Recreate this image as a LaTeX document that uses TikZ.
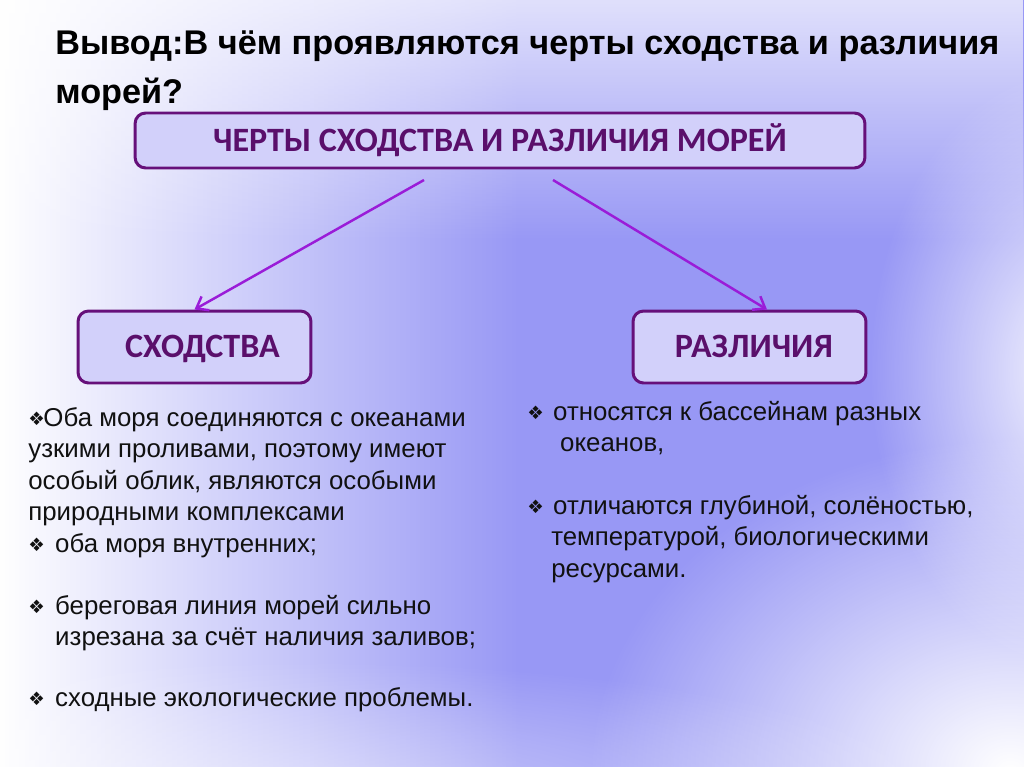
\documentclass[tikz,border=0pt]{standalone}
\usepackage{fontspec}
\setmainfont{Liberation Sans}
\newfontfamily\capsfont{Carlito}
\newfontfamily\glyphfont{DejaVu Sans}
\usetikzlibrary{arrows.meta,positioning,fadings}
\definecolor{Ink}{HTML}{111111}
\definecolor{Plum}{HTML}{5A0F6B}
\definecolor{PlumLine}{HTML}{66107A}
\definecolor{BoxFill}{HTML}{D2D0FA}
\definecolor{Violet}{HTML}{9A1CD8}
\definecolor{BgBlue}{HTML}{9898F5}
\tikzfading[name=glow,inner color=transparent!0,outer color=transparent!100]
\newcommand{\bul}[1]{\makebox[#1][l]{\raisebox{0.5pt}{\glyphfont\fontsize{10.5}{10.5}\selectfont ❖}}}
\tikzset{
  headbox/.style={draw=PlumLine,line width=1.7pt,rounded corners=6pt,fill=BoxFill,text=Plum,font=\capsfont\bfseries\fontsize{19.4}{21}\selectfont,inner sep=0pt,text height=12.5pt,text depth=0pt},
  topbox/.style={headbox,minimum width=14.6cm,minimum height=1.1cm},
  sidebox/.style={headbox,minimum width=4.66cm,minimum height=1.44cm},
  item/.style={anchor=north west,align=left,inner sep=0pt,text=Ink,font=\fontsize{14.7}{17.86}\selectfont},
  link/.style={-{Straight Barb[length=6pt,width=9pt]},line width=1.4pt,draw=Violet}
}
\begin{document}
\begin{tikzpicture}[x=0.02cm,y=-0.02cm]
\useasboundingbox (0,0) rectangle (1024,767);
% background
\fill[BgBlue] (0,0) rectangle (1024,767);
\fill[white,path fading=east] (0,0) rectangle (520,767);
\fill[white,path fading=south,fill opacity=0.7] (0,0) rectangle (1024,240);
\fill[white,path fading=glow] (1010,770) ellipse (420 and 330);
\fill[white,path fading=glow,fill opacity=0.9] (1070,370) ellipse (200 and 300);
\fill[white,path fading=glow,fill opacity=0.5] (260,800) ellipse (700 and 140);
% title
\node[anchor=north west,align=left,inner sep=0pt,font=\bfseries\fontsize{19.5}{28.3}\selectfont,text=black] (title) at (55,30) {Вывод:В чём проявляются черты сходства и различия\\морей?};
% boxes
\node[topbox] (traits) at (500,140.5) {ЧЕРТЫ СХОДСТВА И РАЗЛИЧИЯ МОРЕЙ};
\node[sidebox] (alike) at (194.5,347) {\hspace*{9pt}СХОДСТВА};
\node[sidebox] (unlike) at (749.5,347) {\hspace*{5pt}РАЗЛИЧИЯ};
\coordinate (fromL) at (424,180);
\coordinate (fromR) at (553,180);
\draw[link] (fromL) -- (alike.north);
\draw[link] (fromR) -- ([xshift=0.35cm]unlike.north);
% left column
\node[item] (s1) at (28,407) {\bul{8.6pt}Оба моря соединяются с океанами\\узкими проливами, поэтому имеют\\особый облик, являются особыми\\природными комплексами};
\node[item] (s2) at (28,533) {\bul{15.3pt}оба моря внутренних;};
\node[item] (s3) at (28,595) {\bul{15.3pt}береговая линия морей сильно\\\hspace*{15.3pt}изрезана за счёт наличия заливов;};
\node[item] (s4) at (28,687) {\bul{15.3pt}сходные экологические проблемы.};
% right column
\node[item] (d1) at (527,401) {\bul{14.7pt}относятся к бассейнам разных\\\hspace*{18.7pt}океанов,};
\node[item] (d2) at (527,495) {\bul{14.7pt}отличаются глубиной, солёностью,\\\hspace*{13.6pt}температурой, биологическими\\\hspace*{13.6pt}ресурсами.};
\end{tikzpicture}
\end{document}
